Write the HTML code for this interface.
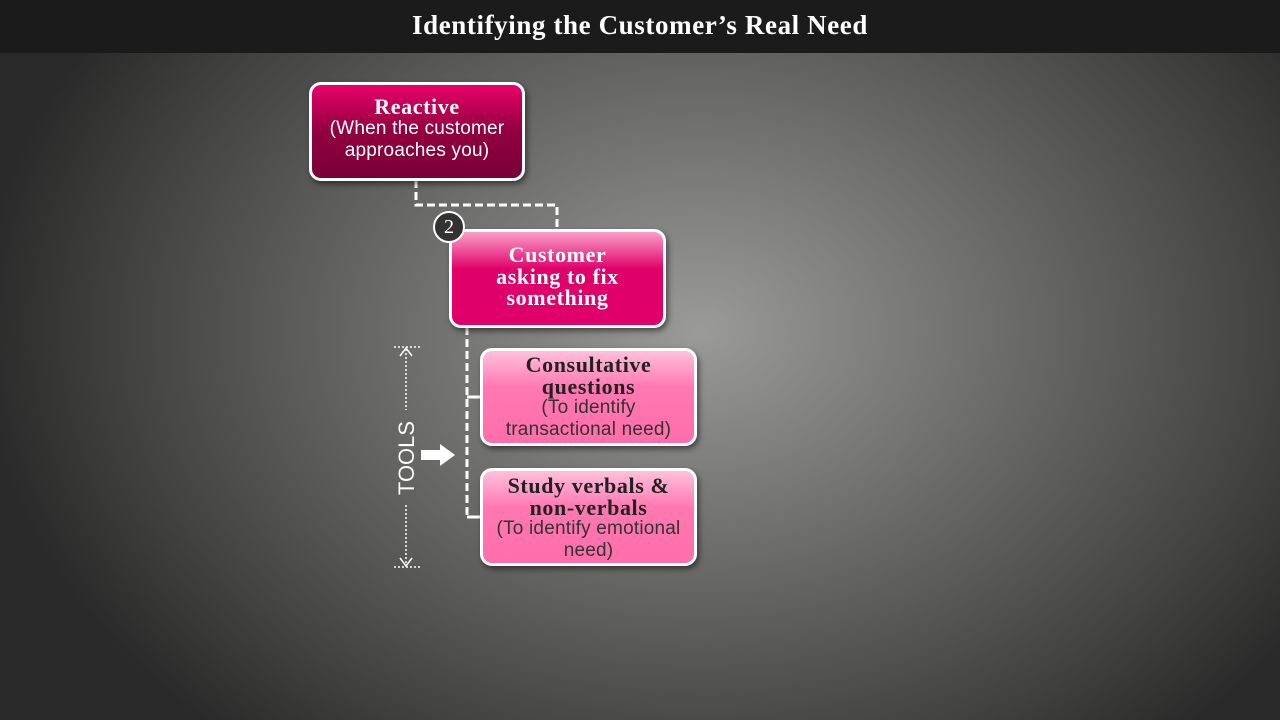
<!DOCTYPE html>
<html><head><style>
body{margin:0;width:1280px;height:720px;overflow:hidden;position:relative;font-family:"Liberation Sans",sans-serif;
background:radial-gradient(ellipse 720px 540px at 700px 330px,#9a9a98 0%,#6e6e6c 40%,#424240 80%,#2a2a2a 100%);}
.top{position:absolute;left:0;top:0;width:1280px;height:53px;background:#1c1b1b;color:#fff;font-family:"Liberation Serif",serif;font-weight:bold;font-size:27px;letter-spacing:0.6px;text-align:center;line-height:50px;}
.box{position:absolute;box-sizing:border-box;border:3px solid #fff;border-radius:12px;text-align:center;box-shadow:2px 3px 6px rgba(0,0,0,.5);white-space:nowrap}
.b{font-family:"Liberation Serif",serif;font-weight:bold;font-size:22px;line-height:21.5px;letter-spacing:0.6px}
.n{font-size:19px;line-height:22px;letter-spacing:0.2px}
</style></head><body>
<div class="top">Identifying the Customer’s Real Need</div>
<svg width="1280" height="720" style="position:absolute;left:0;top:0">
<g stroke="#fff" stroke-width="3" fill="none" stroke-dasharray="8,4">
<path d="M416 180 V205 H557 V230"/>
<path d="M467 327 V517"/>
</g>
<g stroke="#fff" stroke-width="3"><path d="M467 397 H482 M467 517 H482"/></g>
<g stroke="#fff" stroke-width="1.5" fill="none" stroke-dasharray="2,2">
<path d="M394 347 H420 M394 567 H420 M406 349 V410 M406 505 V565"/>
</g>
<g stroke="#fff" stroke-width="1.5" fill="none"><path d="M400 356 L406 348 L412 356 M400 558 L406 566 L412 558"/></g>
<path d="M421 450 H440 V444 L455 455 L440 466 V460 H421Z" fill="#fff"/>
<text transform="translate(414,458) rotate(-90)" text-anchor="middle" fill="#fff" font-family="Liberation Sans" font-size="22">TOOLS</text>
</svg>
<div class="box" style="left:309px;top:82px;width:216px;height:99px;background:linear-gradient(#e8006a,#90003f 50%,#7a0036);color:#fff;padding-top:11px">
<div class="b">Reactive</div><div class="n">(When the customer<br>approaches you)</div></div>
<div class="box" style="left:449px;top:229px;width:217px;height:99px;background:linear-gradient(#fba0c8,#e0006a 40%,#e0006a);color:#fff;padding-top:12px">
<div class="b">Customer<br>asking to fix<br>something</div></div>
<div style="position:absolute;left:433px;top:211px;width:28px;height:28px;border-radius:50%;background:#333;border:2px solid #fff;color:#fff;font-family:'Liberation Serif',serif;font-size:20px;line-height:28px;text-align:center">2</div>
<div class="box" style="left:480px;top:348px;width:217px;height:98px;background:linear-gradient(#ffc0dc,#ff78b2 40%,#ff6eaa);color:#222;padding-top:3px">
<div class="b">Consultative<br>questions</div><div class="n" style="color:#333">(To identify<br>transactional need)</div></div>
<div class="box" style="left:480px;top:468px;width:217px;height:98px;background:linear-gradient(#ffc0dc,#ff78b2 40%,#ff6eaa);color:#222;padding-top:4px">
<div class="b">Study verbals &amp;<br>non-verbals</div><div class="n" style="color:#333">(To identify emotional<br>need)</div></div>
</body></html>
